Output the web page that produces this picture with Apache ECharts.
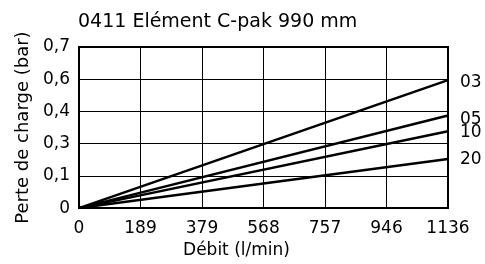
<!DOCTYPE html>
<html>
<head>
<meta charset="utf-8">
<style>html,body{margin:0;padding:0;background:#fff}#c{width:485px;height:264px}</style>
<script src="https://cdn.jsdelivr.net/npm/echarts@6/dist/echarts.min.js"></script>
</head>
<body>
<div id="c"></div>
<script>
// Axis steps (50 gpm in l/min, 2 psi in bar)
const FLOW_STEP = 189.27;
const DP_STEP = 0.1379;
const xTickLabels = ['0', '189', '379', '568', '757', '946', '1136'];
const yTickLabels = ['0', '0,1', '0,3', '0,4', '0,6', '0,7'];
const seriesNames = ['03', '05', '10', '20'];
const flow = [0, 1135.6];
const dp03 = [0, 0.548];
const dp05 = [0, 0.396];
const dp10 = [0, 0.329];
const dp20 = [0, 0.210];
const seriesValues = [dp03, dp05, dp10, dp20];
const labelOffsets = [[0, 3], [0, 4], [0, 1], [0, 1]];

const FONT = 'DejaVu Sans';
const chart = echarts.init(document.getElementById('c'), null, {renderer: 'canvas'});
chart.setOption({
  backgroundColor: '#fff',
  animation: false,
  title: {
    text: '0411 Elément C-pak 990 mm',
    left: 73, top: 8,
    textStyle: {fontFamily: FONT, fontSize: 19, fontWeight: 'normal', color: '#000'}
  },
  grid: {left: 79, right: 37, top: 47, bottom: 51, show: true, borderColor: '#000', borderWidth: 2},
  xAxis: {
    type: 'value', min: 0, max: FLOW_STEP * 6, interval: FLOW_STEP,
    name: 'Débit (l/min)', nameLocation: 'middle', nameGap: 33,
    nameTextStyle: {fontFamily: FONT, fontSize: 17, color: '#000', padding: [0, 54, 0, 0]},
    axisLine: {show: true, lineStyle: {color: '#000', width: 2}},
    axisTick: {show: false},
    axisLabel: {fontFamily: FONT, fontSize: 17, color: '#000', margin: 12,
      formatter: (v) => xTickLabels[Math.round(v / FLOW_STEP)]},
    splitLine: {show: true, lineStyle: {color: '#000', width: 1}}
  },
  yAxis: {
    type: 'value', min: 0, max: DP_STEP * 5, interval: DP_STEP,
    name: 'Perte de charge (bar)', nameLocation: 'middle', nameGap: 47,
    nameTextStyle: {fontFamily: FONT, fontSize: 18, color: '#000'},
    axisLine: {show: true, lineStyle: {color: '#000', width: 2}},
    axisTick: {show: false},
    axisLabel: {fontFamily: FONT, fontSize: 17, color: '#000', margin: 9,
      formatter: (v) => yTickLabels[Math.round(v / DP_STEP)]},
    splitLine: {show: true, lineStyle: {color: '#000', width: 1}}
  },
  series: seriesNames.map((n, i) => ({
    name: n, type: 'line', symbol: 'none',
    data: flow.map((x, j) => [x, seriesValues[i][j]]),
    lineStyle: {color: '#000', width: 2.5},
    endLabel: {show: true, formatter: '{a}', distance: 12, offset: labelOffsets[i],
      fontFamily: FONT, fontSize: 17, color: '#000'}
  }))
});
</script>
</body>
</html>
